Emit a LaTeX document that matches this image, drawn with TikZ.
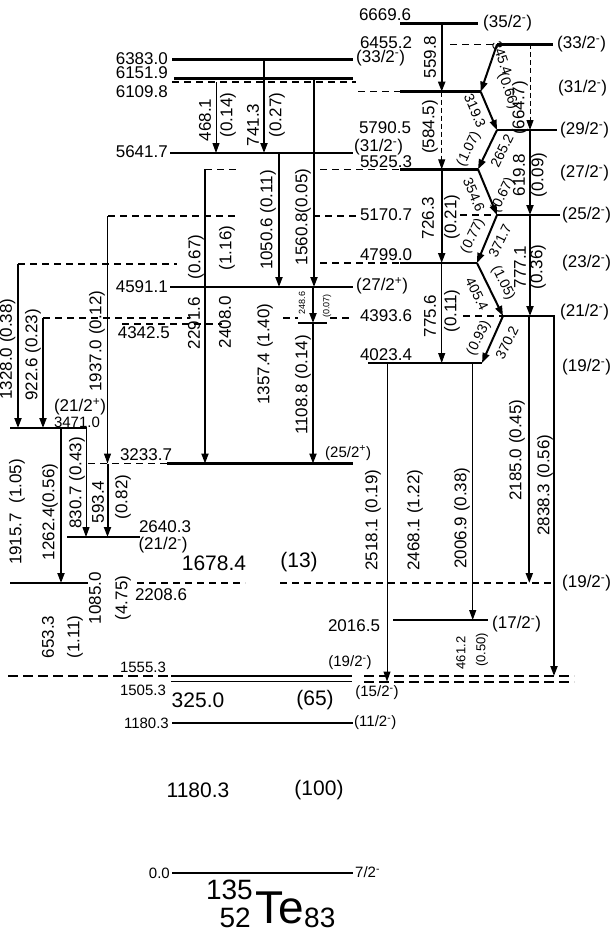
\documentclass[tikz,border=0pt]{standalone}
\usepackage{fontspec}
\setmainfont{Liberation Sans}
\usetikzlibrary{arrows.meta}
\newcommand{\fN}{\fontsize{17}{17}\selectfont}
\newcommand{\fQ}{\fontsize{14}{14}\selectfont}
\newcommand{\fS}{\fontsize{15}{15}\selectfont}
\newcommand{\fM}{\fontsize{13}{13}\selectfont}
\newcommand{\fT}{\fontsize{9}{9}\selectfont}
\newcommand{\fB}{\fontsize{21}{21}\selectfont}
\newcommand{\jm}[1]{(#1\textsuperscript{-})}
\newcommand{\jp}[1]{(#1\textsuperscript{+})}
\newcommand{\lvl}[5]{\coordinate (#2a) at (#3,#5); \coordinate (#2b) at (#4,#5); \draw[#1] (#2a) -- (#2b);}
\newcommand{\trans}[6]{\coordinate (#2a) at (#3,#4); \coordinate (#2b) at (#5,#6); \draw[#1] (#2a) -- (#2b);}
\begin{document}
\begin{tikzpicture}[x=1pt,y=-1pt,
  lev/.style={line width=2.6pt},
  levm/.style={line width=2pt},
  levs/.style={line width=1.8pt},
  dlev/.style={line width=1.2pt,dash pattern=on 7pt off 5pt},
  dlevb/.style={line width=2pt,dash pattern=on 10pt off 5pt},
  tk/.style={line width=2pt,-{Triangle[length=10pt,width=7pt]}},
  tn/.style={line width=1pt,-{Triangle[length=10pt,width=7pt]}},
  td/.style={line width=1pt,dash pattern=on 5pt off 3pt,-{Triangle[length=10pt,width=7pt]}},
  lb/.style={inner sep=0pt,font=\fN},
  lq/.style={inner sep=0pt,font=\fQ},
  ls/.style={inner sep=0pt,font=\fS},
  lm/.style={inner sep=0pt,font=\fM},
  lt/.style={inner sep=0pt,font=\fT},
  lbig/.style={inner sep=0pt,font=\fB},
  vr/.style={rotate=90}]
\useasboundingbox (0,0) rectangle (613,934);
% ---------- levels ----------
\lvl{lev}{Lr6669}{400}{478}{23.3}
\lvl{dlev}{Ld6455}{450}{497}{44.5}
\lvl{lev}{Lr6455}{497}{553}{44.5}
\lvl{lev}{L6383}{172}{353}{59.5}
\lvl{lev}{L6151}{174}{353}{78.5}
\lvl{dlev}{Ld6109a}{172}{356}{82}
\lvl{dlev}{Ld6109b}{358}{400}{91.7}
\lvl{lev}{Lr6109}{400}{481}{91.7}
\lvl{lev}{Lr5790}{497}{557}{130}
\lvl{lev}{L5641}{170}{353}{153}
\lvl{dlev}{Ld5525a}{205}{237}{169.3}
\lvl{dlev}{Ld5525b}{320}{400}{169.3}
\lvl{lev}{Lr5525}{400}{478}{169.3}
\lvl{dlev}{Ld5170a}{108}{237}{216}
\lvl{dlev}{Ld5170b}{313}{358}{216}
\lvl{dlev}{Ld5170c}{460}{497}{215}
\lvl{lev}{Lr5170}{497}{560}{215}
\lvl{dlev}{Ld4799a}{18}{177}{264}
\lvl{dlev}{Ld4799b}{320}{400}{263}
\lvl{lev}{Lr4799}{400}{477}{263}
\lvl{lev}{L4591}{170}{353}{287}
\lvl{dlev}{Ld4393a}{43}{190}{318}
\lvl{dlev}{Ld4393b}{283}{298}{318}
\lvl{dlev}{Ld4393c}{330}{352}{318}
\lvl{dlev}{Ld4393d}{463}{502}{316}
\lvl{lev}{Lr4393}{502}{555}{316}
\lvl{dlev}{Ld4342}{122}{222}{324}
\lvl{lev}{L4342}{298}{327}{323}
\lvl{lev}{Lr4023}{368}{482}{363}
\lvl{lev}{L3471}{10}{87}{428}
\lvl{dlev}{Ld3233}{88}{167}{463.5}
\lvl{lev}{L3233}{167}{353}{463.5}
\lvl{lev}{L2640}{67}{140}{537}
\lvl{lev}{L2208}{10}{88}{583}
\lvl{dlev}{Ld2208a}{137}{245}{583}
\lvl{dlev}{Ld2208b}{280}{552}{583}
\lvl{lev}{L2016}{393}{488}{620}
\lvl{dlevb}{Ld1555a}{8}{171}{676}
\lvl{levs}{L1555}{171}{352}{676}
\lvl{levs}{L1505}{171}{352}{681.5}
\lvl{dlevb}{Ld1555b}{364}{574}{676}
\lvl{dlevb}{Ld1505b}{364}{574}{681.5}
\lvl{levm}{L1180}{172}{353}{723}
\lvl{levm}{L0}{172}{353}{873}
% ---------- transitions ----------
\trans{tk}{T741}{264}{59.5}{264}{153}
\trans{tn}{T468}{216}{82}{216}{153}
\trans{tk}{T1560}{314}{78.5}{314}{287}
\trans{tk}{T1050}{279}{153}{279}{287}
\trans{tk}{T559}{441.7}{23.3}{441.7}{91.7}
\trans{td}{T584}{441.7}{91.7}{441.7}{169.3}
\trans{tk}{T726}{441.7}{169.3}{441.7}{263}
\trans{tn}{T775}{441.7}{263}{441.7}{363}
\trans{tk}{T345}{497}{44.5}{480.7}{91.7}
\trans{tk}{T319}{480.7}{91.7}{497}{130}
\trans{td}{T664}{530}{44.5}{530}{130}
\trans{tk}{T265}{497}{130}{478}{169.3}
\trans{tk}{T354}{478}{169.3}{497}{215}
\trans{tk}{T619}{530}{130}{530}{215}
\trans{tk}{T371}{497}{215}{477}{263}
\trans{tk}{T405}{477}{263}{503}{316}
\trans{tk}{T777}{530}{215}{530}{316}
\trans{tk}{T370}{503}{316}{482}{363}
\trans{tk}{T2185}{529.3}{316}{529.3}{583}
\trans{tk}{T2838}{554}{316}{554}{676}
\trans{tn}{T2518}{387}{363}{387}{681.5}
\trans{tn}{T2006}{472.7}{363}{472.7}{620}
\trans{tk}{T2291}{205}{169.3}{205}{463.5}
\trans{tk}{T248}{313}{287}{313}{323}
\trans{tk}{T1108}{313}{323}{313}{463.5}
\trans{tn}{T1937}{107.5}{216}{107.5}{463.5}
\trans{tk}{T593}{107.5}{463.5}{107.5}{537}
\trans{tk}{T1328}{18}{264}{18}{428}
\trans{tk}{T922}{43}{318}{43}{428}
\trans{tk}{T1262}{61}{428}{61}{583}
\trans{tn}{T830}{86}{428}{86}{537}
% ---------- transition labels ----------
\node[lb,vr] (g468) at (205,120) {468.1};
\node[lb,vr] (i468) at (228,115) {(0.14)};
\node[lb,vr] (g741) at (253,125) {741.3};
\node[lb,vr] (i741) at (277,115) {(0.27)};
\node[lb,vr] (g1050) at (268,220) {1050.6 (0.11)};
\node[lb,vr] (g1560) at (303,217) {1560.8(0.05)};
\node[lb,vr] (i2291) at (196,257) {(0.67)};
\node[lb,vr] (i2408) at (227,248) {(1.16)};
\node[lb,vr] (g2291) at (194,323) {2291.6};
\node[lb,vr] (g2408) at (225,322) {2408.0};
\node[lb,vr] (g1357) at (265,354) {1357.4 (1.40)};
\node[lb,vr] (g1108) at (303,385) {1108.8 (0.14)};
\node[lt,vr] (g248) at (302,303) {248.6};
\node[lt,vr] (i248) at (327,306) {(0.07)};
\node[lb,vr] (g1937) at (97,341) {1937.0 (0.12)};
\node[lb,vr] (g1328) at (7.5,349) {1328.0 (0.38)};
\node[lb,vr] (g922) at (33,355) {922.6 (0.23)};
\node[lb,vr] (g1915) at (17,512) {1915.7~ (1.05)};
\node[lb,vr] (g1262) at (50,512) {1262.4(0.56)};
\node[lb,vr] (g830) at (77,483) {830.7 (0.43)};
\node[lb,vr] (g593) at (98,502) {593.4};
\node[lb,vr] (i593) at (123,497) {(0.82)};
\node[lb,vr] (g653) at (48,637) {653.3};
\node[lb,vr] (i653) at (75,637) {(1.11)};
\node[lb,vr] (g1085) at (95,598) {1085.0};
\node[lb,vr] (i1085) at (123,598) {(4.75)};
\node[lb,vr] (g559) at (430,57) {559.8};
\node[lb,vr] (g584) at (430,127) {(584.5)};
\node[lb,vr] (g726) at (428,218) {726.3};
\node[lb,vr] (i726) at (452,217) {(0.21)};
\node[lb,vr] (g775) at (430,316) {775.6};
\node[lb,vr] (i775) at (452,311) {(0.11)};
\node[lb,vr] (g664) at (520,108) {(664.7)};
\node[lb,vr] (g619) at (519,175) {619.8};
\node[lb,vr] (i619) at (539,175) {(0.09)};
\node[lb,vr] (g777) at (520,267) {777.1};
\node[lb,vr] (i777) at (538,267) {(0.36)};
\node[lb,vr] (g2185) at (517,450) {2185.0 (0.45)};
\node[lb,vr] (g2838) at (545,485) {2838.3 (0.56)};
\node[lb,vr] (g2518) at (373,520) {2518.1 (0.19)};
\node[lb,vr] (g2468) at (415,520) {2468.1 (1.22)};
\node[lb,vr] (g2006) at (462,518) {2006.9 (0.38)};
\node[lm,vr] (g461) at (461,653) {461.2};
\node[lm,vr] (i461) at (482,650) {(0.50)};
\node[lq,rotate=-71] (g345) at (502,58) {345.4};
\node[lq,rotate=-71] (i345) at (508,91) {(0.66)};
\node[lq,rotate=-67] (g319) at (475,111) {319.3};
\node[lq,rotate=64] (i265) at (469,149) {(1.07)};
\node[lq,rotate=64] (g265) at (502,151) {265.2};
\node[lq,rotate=-67] (g354) at (474,195) {354.6};
\node[lq,rotate=64] (i354) at (503,195) {(0.67)};
\node[lq,rotate=64] (i371) at (473,236) {(0.77)};
\node[lq,rotate=64] (g371) at (500,241) {371.7};
\node[lq,rotate=-64] (g405) at (477,294) {405.4};
\node[lq,rotate=-64] (i405) at (503,283) {(1.05)};
\node[lq,rotate=64] (i370) at (479,338) {(0.93)};
\node[lq,rotate=64] (g370) at (507,343) {370.2};
% ---------- level labels ----------
\node[lb,anchor=east] (e6383) at (168,59) {6383.0};
\node[lb,anchor=east] (e6151) at (168,73) {6151.9};
\node[lb,anchor=east] (e6109) at (168,92) {6109.8};
\node[lb,anchor=east] (e5641) at (168,152) {5641.7};
\node[lb,anchor=east] (e4591) at (168,287) {4591.1};
\node[lb,anchor=east] (e4342) at (170,333) {4342.5};
\node[lb] (e6669) at (385,15) {6669.6};
\node[lb] (e6455) at (386,43) {6455.2};
\node[lb] (e5790) at (385,128) {5790.5};
\node[lb] (e5525) at (386,162) {5525.3};
\node[lb] (e5170) at (386,215) {5170.7};
\node[lb] (e4799) at (386,255) {4799.0};
\node[lb] (e4393) at (386,316) {4393.6};
\node[lb] (e4023) at (386,355) {4023.4};
\node[ls] (e3471) at (77,422) {3471.0};
\node[lb] (e3233) at (146,455) {3233.7};
\node[lb] (e2640) at (165,527) {2640.3};
\node[lb] (e2208) at (161,595) {2208.6};
\node[lb] (e2016) at (354,626) {2016.5};
\node[ls] (e1555) at (143,667) {1555.3};
\node[ls] (e1505) at (143,690) {1505.3};
\node[ls,anchor=east] (e1180) at (169,723) {1180.3};
\node[ls,anchor=east] (e0) at (170,873) {0.0};
% spins
\node[lb,anchor=west] (s6383) at (356,58) {\jm{33/2}};
\node[lb,anchor=west] (s5641) at (354,147) {\jm{31/2}};
\node[lb,anchor=west] (s4591) at (356,286) {\jp{27/2}};
\node[ls,anchor=west] (s3233) at (325,453) {\jp{25/2}};
\node[lb,anchor=west] (s6669) at (483,23) {\jm{35/2}};
\node[lb,anchor=west] (s6455) at (557,44.5) {\jm{33/2}};
\node[lb,anchor=west] (s6109) at (558,88) {\jm{31/2}};
\node[lb,anchor=west] (s5790) at (560,130) {\jm{29/2}};
\node[lb,anchor=west] (s5525) at (560,173) {\jm{27/2}};
\node[lb,anchor=west] (s5170) at (562,215) {\jm{25/2}};
\node[lb,anchor=west] (s4799) at (562,263) {\jm{23/2}};
\node[lb,anchor=west] (s4393) at (560,312) {\jm{21/2}};
\node[lb,anchor=west] (s4023) at (562,367) {\jm{19/2}};
\node[lb,anchor=west] (s2208) at (562,583) {\jm{19/2}};
\node[lb,anchor=west] (s2016) at (492,624) {\jm{17/2}};
\node[lb] (s3471) at (80,407) {\jp{21/2}};
\node[lb] (s2640) at (163,545) {\jm{21/2}};
\node[ls] (s1555) at (350,663) {\jm{19/2}};
\node[ls] (s1505) at (377,693) {\jm{15/2}};
\node[ls,anchor=west] (s1180) at (354,723) {\jm{11/2}};
\node[ls,anchor=west] (s0) at (355,872) {7/2\textsuperscript{-}};
% big labels
\node[lbig] (b1678) at (214,563) {1678.4};
\node[lbig] (b13) at (299,562) {(13)};
\node[lbig] (b325) at (198,700) {325.0};
\node[lbig] (b65) at (315,700) {(65)};
\node[lbig] (b1180) at (198,790) {1180.3};
\node[lbig] (b100) at (319,790) {(100)};
% nucleus
\node[inner sep=0pt,font=\fontsize{46}{46}\selectfont,anchor=base west] (te) at (255,923) {Te};
\node[inner sep=0pt,font=\fontsize{28}{28}\selectfont,anchor=base east] (ta) at (253,899) {135};
\node[inner sep=0pt,font=\fontsize{28}{28}\selectfont,anchor=base east] (tz) at (251,927) {52};
\node[inner sep=0pt,font=\fontsize{28}{28}\selectfont,anchor=base west] (tn) at (te.base east) {\raisebox{-4pt}{83}};
\end{tikzpicture}
\end{document}
